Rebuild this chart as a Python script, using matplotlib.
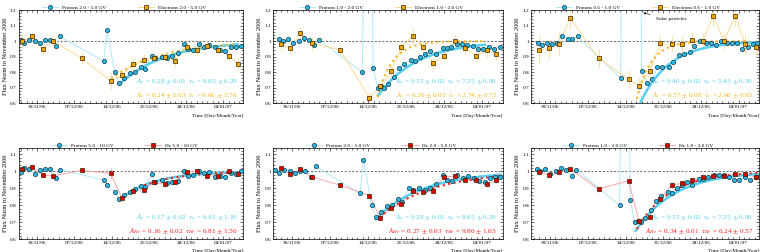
import numpy as np
import matplotlib
matplotlib.use('Agg')
import matplotlib.pyplot as plt
from matplotlib.ticker import MultipleLocator, FormatStrFormatter

plt.rcParams['font.family'] = ['Liberation Serif', 'DejaVu Serif']
plt.rcParams['mathtext.fontset'] = 'stix'

# x = days since 30/11/06
tick_days = [0, 7, 14, 21, 28, 35]
tick_labels = ['30/11/06', '07/12/06', '14/12/06', '21/12/06', '28/12/06', '04/01/07']

# ---- protons ----
p25_t = [-3.14, -2.5, -1.5, -0.5, 0.5, 1.44, 2.4, 3.5, 4.3,
         12.5, 13.1, 14.6, 15.4, 16.4, 17.5, 18.4, 19.5, 20.2, 21.5, 22.2, 23.4, 24.4, 25.4,
         26.4, 27.7, 28.4, 29.4, 30.4, 31.4, 32.3, 33.5, 34.4, 35.4, 36.4, 37.4, 38.3]
p25_v = [1.01, 0.99, 1.01, 1.0, 0.99, 1.005, 1.005, 0.97, 1.03,
         0.87, 1.07, 0.80, 0.73, 0.76, 0.795, 0.80, 0.835, 0.82, 0.905, 0.89, 0.90, 0.89, 0.905,
         0.925, 0.98, 0.95, 0.945, 0.98, 0.96, 0.975, 0.96, 0.945, 0.935, 0.96, 0.965, 0.97]
p510_v = [0.996, 1.02, 1.016, 0.986, 1.006, 1.012, 1.012, 0.963, 1.01,
          0.95, 0.923, 0.878, 0.837, 0.86, 0.878, 0.898, 0.917, 0.911, 0.982, 0.935, 0.947, 0.929, 0.939,
          0.945, 1.0, 0.972, 0.978, 1.002, 0.99, 0.996, 0.97, 0.972, 0.97, 0.99, 0.986, 1.0]
p12_t = [-2.4, -1.8, -0.86, 0.06, 1.17, 2.1, 3.0, 4.05, 4.85,
         12.9, 13.3, 14.6, 14.9, 15.7, 16.3, 16.8, 17.7, 18.7, 19.6, 20.5, 21.8, 22.6, 23.6,
         24.5, 25.4, 26.4, 27.7, 28.4, 29.3, 30.4, 31.3, 32.2, 33.2, 34.2, 35.1, 36.2, 37.1, 38.2]
p12_v = [1.013, 1.0, 1.013, 0.987, 1.0, 1.02, 1.01, 0.975, 1.01,
         0.80, 1.9, 1.8, 0.83, 0.70, 0.71, 0.70, 0.727, 0.77, 0.825, 0.855, 0.88, 0.875, 0.90,
         0.92, 0.935, 0.92, 0.953, 0.958, 0.965, 0.98, 0.98, 0.978, 0.968, 0.95, 0.95, 0.965, 0.95, 0.965]
p0610_t = [-2.3, -1.55, -0.62, 0.3, 1.36, 2.3, 3.3, 4.15, 5.1,
           13.1, 13.4, 16.6, 17.0, 18.0, 19.0, 19.9, 20.8, 22.0, 22.9, 23.9, 24.8, 25.9,
           26.8, 27.9, 28.9, 29.9, 30.8, 31.8, 32.8, 33.8, 34.7, 35.7, 36.7, 37.6, 38.5]
p0610_v = [0.99, 0.975, 0.99, 0.98, 0.985, 1.035, 1.013, 1.013, 1.03,
           0.76, 2.5, 2.5, 0.805, 0.733, 0.755, 0.833, 0.833, 0.833, 0.865, 0.91, 0.917, 0.928,
           0.966, 0.998, 0.987, 0.987, 0.977, 1.0, 0.99, 0.987, 0.99, 0.947, 0.964, 0.979, 0.99]

# ---- electrons / helium (time bins per column) ----
s_col1_t = [-2.95, -1.07, 1.0, 3.0, 8.35, 13.8, 15.9, 17.95, 20.0, 22.0, 24.0, 25.9, 28.1, 30.0, 32.0, 34.1, 36.0, 37.85]
s_col2_t = [-2.1, -0.37, 1.5, 3.56, 8.8, 14.2, 16.2, 18.2, 20.1, 22.2, 24.1, 25.9, 28.0, 29.9, 31.8, 33.8, 35.8, 37.6]
s_col3_t = [-2.0, -0.12, 1.73, 3.7, 9.0, 14.56, 16.5, 18.46, 20.45, 22.55, 24.47, 26.3, 28.4, 30.3, 32.3, 34.4, 36.2, 38.2]

e25_v = [1.0, 1.03, 0.95, 1.0, 0.89, 0.745, 0.78, 0.85, 0.88, 0.89, 0.895, 0.875, 0.965, 0.94, 0.97, 0.945, 0.905, 0.855]
e25_err = [0.05, 0.03, 0.04, 0.04, 0.04, 0.05, 0.04, 0.04, 0.04, 0.03, 0.03, 0.04, 0.03, 0.03, 0.03, 0.03, 0.03, 0.04]
e12_v = [0.98, 0.955, 1.05, 0.985, 0.945, 0.635, 0.71, 0.805, 0.964, 1.03, 0.964, 0.858, 0.907, 1.0, 0.958, 0.907, 0.94, 0.917]
e12_err = [0.04, 0.04, 0.04, 0.04, 0.04, 0.03, 0.03, 0.04, 0.04, 0.05, 0.04, 0.04, 0.04, 0.04, 0.04, 0.04, 0.04, 0.04]
e0610_v = [0.943, 0.953, 0.983, 1.15, 0.89, 0.754, 0.714, 0.805, 0.985, 0.98, 0.979, 1.006, 1.004, 1.16, 1.0, 1.165, 0.98, 0.96]
e0610_err = [0.09, 0.06, 0.07, 0.07, 0.06, 0.06, 0.05, 0.05, 0.05, 0.05, 0.05, 0.05, 0.05, 0.06, 0.05, 0.06, 0.06, 0.06]

he510_v = [1.016, 1.024, 0.978, 0.974, 1.006, 0.988, 0.846, 0.884, 0.892, 0.935, 0.925, 0.939, 0.994, 1.002, 0.974, 0.972, 1.0, 0.986]
he510_err = [0.015, 0.015, 0.015, 0.015, 0.015, 0.03, 0.015, 0.015, 0.015, 0.015, 0.015, 0.015, 0.015, 0.015, 0.015, 0.015, 0.015, 0.015]
he25_v = [1.02, 0.982, 1.012, 0.968, 0.919, 0.858, 0.726, 0.785, 0.811, 0.886, 0.878, 0.886, 0.968, 0.972, 0.949, 0.947, 0.925, 0.947]
he25_err = [0.015, 0.015, 0.015, 0.015, 0.015, 0.02, 0.015, 0.015, 0.015, 0.015, 0.015, 0.015, 0.015, 0.015, 0.015, 0.015, 0.015, 0.015]
he12_v = [0.994, 0.98, 0.994, 1.016, 0.896, 0.945, 0.709, 0.732, 0.839, 0.92, 0.929, 0.949, 0.968, 0.972, 0.974, 0.984, 0.984, 0.966]
he12_err = [0.015, 0.015, 0.015, 0.015, 0.015, 0.035, 0.015, 0.015, 0.015, 0.015, 0.015, 0.015, 0.015, 0.015, 0.015, 0.015, 0.015, 0.015]

# fit parameters (A, tau, start day, end day)
fit_p = [(0.28, 8.65, 15.4, 37.7), (0.35, 7.25, 15.8, 35.5), (0.40, 5.43, 16.7, 38.5),
         (0.17, 6.42, 15.4, 37.9), (0.28, 8.65, 15.4, 38.4), (0.35, 7.25, 15.9, 38.6)]
fit_s = [(0.24, 9.66, 13.9, 36.9), (0.36, 2.74, 15.7, 35.5), (0.37, 2.66, 16.1, 37.0),
         (0.16, 6.81, 15.6, 38.8), (0.27, 9.86, 16.0, 38.6), (0.34, 6.24, 16.1, 38.8)]
txt_p = ['0.28 $\\pm$ 0.01', '0.35 $\\pm$ 0.02', '0.40 $\\pm$ 0.02', '0.17 $\\pm$ 0.02', '0.28 $\\pm$ 0.01', '0.35 $\\pm$ 0.02']
txt_pt = ['8.65 $\\pm$ 0.29', '7.25 $\\pm$ 0.90', '5.43 $\\pm$ 0.30', '6.42 $\\pm$ 1.10', '8.65 $\\pm$ 0.29', '7.25 $\\pm$ 0.90']
txt_s = ['0.24 $\\pm$ 0.03', '0.36 $\\pm$ 0.05', '0.37 $\\pm$ 0.08', '0.16 $\\pm$ 0.02', '0.27 $\\pm$ 0.03', '0.34 $\\pm$ 0.01']
txt_st = ['9.66 $\\pm$ 1.76', '2.74 $\\pm$ 0.72', '2.66 $\\pm$ 0.95', '6.81 $\\pm$ 1.56', '9.86 $\\pm$ 1.65', '6.24 $\\pm$ 0.57']

cyan_mk, cyan_ln, cyan_fit = '#2cb7e2', '#b3e8f8', '#55cff2'
orng_mk, orng_ln, orng_fit = '#f2a800', '#fcdc94', '#f8b81c'
red_mk, red_ln, red_fit = '#e00000', '#f7a8a8', '#ff1e1e'

panels = [
    (p25_t, p25_v, s_col1_t, e25_v, e25_err, 'Protons 2.0 - 5.0 GV', 'Electrons 2.0 - 5.0 GV', 'e'),
    (p12_t, p12_v, s_col2_t, e12_v, e12_err, 'Protons 1.0 - 2.0 GV', 'Electrons 1.0 - 2.0 GV', 'e'),
    (p0610_t, p0610_v, s_col3_t, e0610_v, e0610_err, 'Protons 0.6 - 1.0 GV', 'Electrons 0.6 - 1.0 GV', 'e'),
    (p25_t, p510_v, s_col1_t, he510_v, he510_err, 'Protons 5.0 - 10 GV', 'He 5.0 - 10 GV', 'He'),
    (p25_t, p25_v, s_col2_t, he25_v, he25_err, 'Protons 2.0 - 5.0 GV', 'He 2.0 - 5.0 GV', 'He'),
    (p12_t, p12_v, s_col3_t, he12_v, he12_err, 'Protons 1.0 - 2.0 GV', 'He 1.0 - 2.0 GV', 'He'),
]

fig = plt.figure(figsize=(7.6, 2.52), dpi=100)
lefts = [0.0246, 0.3596, 0.699]
widths = [0.2957, 0.3022, 0.2998]
rows = [(0.590, 0.370, 1.2), (0.0504, 0.3635, 1.14)]

for i, (pt, pv, st, sv, serr, plab, slab, kind) in enumerate(panels):
    r, c = divmod(i, 3)
    bottom, height, ytop = rows[r]
    ax = fig.add_axes([lefts[c], bottom, widths[c], height])
    if kind == 'e':
        smk, sln, sfit = orng_mk, orng_ln, orng_fit
    else:
        smk, sln, sfit = red_mk, red_ln, red_fit

    ax.axhline(1.0, color='#555555', ls=(0, (2.5, 2)), lw=0.6, zorder=1)
    ax.errorbar(st, sv, yerr=serr, fmt='none', ecolor=sln, elinewidth=0.6, capsize=0, zorder=1.5)
    ax.plot(pt, pv, '-', color=cyan_ln, lw=0.7, zorder=1.6)
    ax.plot(st, sv, '-', color=sln, lw=0.7, zorder=1.6)

    A, tau, t0, t1 = fit_p[i]
    tf = np.linspace(t0, t1, 200)
    ax.plot(tf, 1 - A * np.exp(-(tf - t0) / tau), '-', color=cyan_fit, lw=1.8, zorder=2)
    A, tau, t0, t1 = fit_s[i]
    tf = np.linspace(t0, t1, 200)
    ax.plot(tf, 1 - A * np.exp(-(tf - t0) / tau), ':', color=sfit, lw=1.5, zorder=2.1)

    ax.plot(pt, pv, 'o', ms=3.1, mfc=cyan_mk, mec='#1b3c4a', mew=0.5, zorder=3)
    ax.plot(st, sv, 's', ms=3.4, mfc=smk, mec='#3a2400', mew=0.5, zorder=3.1)

    hp, = ax.plot([], [], 'o-', color=cyan_ln, lw=0.7, ms=3.1, mfc=cyan_mk, mec='#1b3c4a', mew=0.5)
    hs, = ax.plot([], [], 's-', color=sln, lw=0.7, ms=3.4, mfc=smk, mec='#3a2400', mew=0.5)
    ax.legend([hp, hs], [plab, slab], loc='lower center', bbox_to_anchor=(0.47, 0.99), ncol=2,
              frameon=False, fontsize=3.8, columnspacing=6, handlelength=3.0, handletextpad=0.8,
              borderaxespad=0.1, borderpad=0.1)

    sub = 'e' if kind == 'e' else 'He'
    ax.text(0.975, 0.225, '$A_{p}$ = ' + txt_p[i] + '  $\\tau_{p}$ = ' + txt_pt[i],
            transform=ax.transAxes, ha='right', va='center', fontsize=5.2, color=cyan_fit)
    ax.text(0.975, 0.09, '$A_{%s}$ = ' % sub + txt_s[i] + '  $\\tau_{%s}$ = ' % sub + txt_st[i],
            transform=ax.transAxes, ha='right', va='center', fontsize=5.2, color=sfit)

    ax.set_xlim(-3.5, 38.8)
    ax.set_ylim(0.6, ytop)
    ax.set_xticks(tick_days)
    ax.set_xticklabels(tick_labels)
    ax.xaxis.set_minor_locator(MultipleLocator(1))
    ax.yaxis.set_major_locator(MultipleLocator(0.1))
    ax.yaxis.set_minor_locator(MultipleLocator(0.02))
    ax.yaxis.set_major_formatter(FormatStrFormatter('%g'))
    ax.tick_params(which='both', direction='in', top=True, right=True, labelsize=3.8, width=0.4, pad=1.5)
    ax.tick_params(which='major', length=2.5)
    ax.tick_params(which='minor', length=1.1)
    for s in ax.spines.values():
        s.set_linewidth(0.5)
    ax.set_ylabel('Flux Norm to November 2006', fontsize=4.6, labelpad=1.5)
    ax.set_xlabel('Time [Day/Month/Year]', fontsize=3.8, labelpad=1)
    ax.xaxis.set_label_coords(1.0, -0.11)
    ax.xaxis.label.set_ha('right')

    if i == 2:
        ax.annotate('Solar particles', xy=(16.8, 1.186), xytext=(19.6, 1.14),
                    fontsize=3.8, va='center',
                    arrowprops=dict(arrowstyle='-|>', color='black', lw=0.4, mutation_scale=3))

fig.savefig('out.png', dpi=100)
